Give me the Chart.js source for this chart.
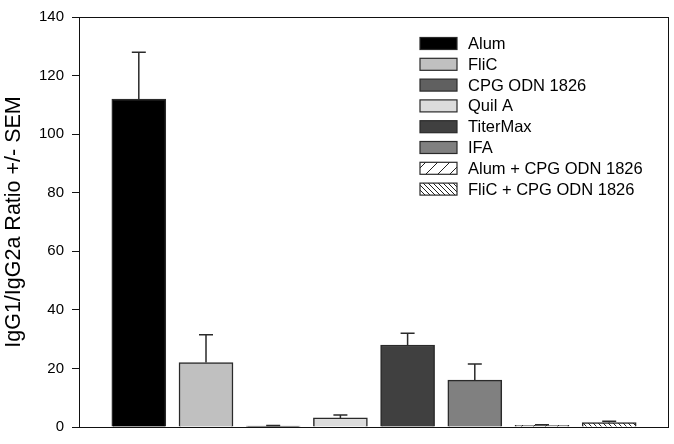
<!DOCTYPE html>
<html>
<head>
<meta charset="utf-8">
<script src="https://cdn.jsdelivr.net/npm/chart.js@4.4.0/dist/chart.umd.min.js"></script>
<style>
    body { margin: 0; background: #fff; }
    #wrap { width: 674px; height: 444px; }
</style>
</head>
<body>
<div id="wrap"><canvas id="ratioChart" width="674" height="444"></canvas></div>
<script>
const groups = ['Alum', 'FliC', 'CPG ODN 1826', 'Quil A', 'TiterMax', 'IFA', 'Alum + CPG ODN 1826', 'FliC + CPG ODN 1826'];
const ratios = [112, 22, 0.3, 3.1, 28, 16, 0.6, 1.5];
const sem = [16, 9.5, 0.2, 1, 4, 5.5, 0.2, 0.5];
const yTicks = [0, 20, 40, 60, 80, 100, 120, 140];

const edge = '#2a2a2a';

function hatch(size, slash, lineWidth) {
    const c = document.createElement('canvas');
    c.width = size;
    c.height = size;
    const g = c.getContext('2d');
    g.fillStyle = '#fff';
    g.fillRect(0, 0, size, size);
    g.strokeStyle = '#222';
    g.lineWidth = lineWidth;
    g.beginPath();
    if (slash) {
        g.moveTo(-1, size + 1); g.lineTo(size + 1, -1);
        g.moveTo(-1, 1); g.lineTo(1, -1);
        g.moveTo(size - 1, size + 1); g.lineTo(size + 1, size - 1);
    } else {
        g.moveTo(-1, -1); g.lineTo(size + 1, size + 1);
        g.moveTo(size - 1, -1); g.lineTo(size + 1, 1);
        g.moveTo(-1, size - 1); g.lineTo(1, size + 1);
    }
    g.stroke();
    return g.createPattern(c, 'repeat');
}

const fills = ['#000000', '#c0c0c0', '#606060', '#dcdcdc', '#404040', '#808080', hatch(12, true, 1), hatch(5, false, 1)];

const errorBars = {
    id: 'errorBars',
    afterDatasetsDraw(chart) {
        const ctx = chart.ctx;
        const y = chart.scales.y;
        const meta = chart.getDatasetMeta(0);
        ctx.save();
        ctx.strokeStyle = edge;
        ctx.lineWidth = 1.5;
        meta.data.forEach((bar, i) => {
            const top = y.getPixelForValue(ratios[i] + sem[i]);
            ctx.beginPath();
            ctx.moveTo(bar.x, bar.y);
            ctx.lineTo(bar.x, top);
            ctx.moveTo(bar.x - 7, top);
            ctx.lineTo(bar.x + 7, top);
            ctx.stroke();
        });
        ctx.restore();
    }
};

const frameAndLegend = {
    id: 'frameAndLegend',
    afterDraw(chart) {
        const ctx = chart.ctx;
        const a = chart.chartArea;
        ctx.save();
        ctx.strokeStyle = '#111';
        ctx.lineWidth = 1;
        ctx.strokeRect(a.left + 0.5, a.top + 0.5, a.right - a.left - 1, a.bottom - a.top);

        ctx.font = '16.5px "Liberation Sans", Arial, sans-serif';
        ctx.textBaseline = 'middle';
        groups.forEach((name, i) => {
            const cy = 43.5 + i * 20.8;
            ctx.fillStyle = fills[i];
            ctx.fillRect(420, cy - 6, 37, 12);
            ctx.strokeStyle = edge;
            ctx.lineWidth = 1.2;
            ctx.strokeRect(420, cy - 6, 37, 12);
            ctx.fillStyle = '#000';
            ctx.fillText(name, 468, cy + 1);
        });
        ctx.restore();
    }
};

new Chart(document.getElementById('ratioChart'), {
    type: 'bar',
    data: {
        datasets: [{
            data: ratios.map((v, i) => ({ x: i + 1, y: v })),
            backgroundColor: fills,
            borderColor: edge,
            borderWidth: 1.5,
            barThickness: 54
        }]
    },
    options: {
        responsive: false,
        animation: false,
        layout: { padding: { top: 10, right: 5, bottom: 10, left: 0 } },
        plugins: { legend: { display: false }, tooltip: { enabled: false } },
        scales: {
            x: {
                type: 'linear',
                display: false,
                offset: false,
                min: 0.11,
                max: 8.89
            },
            y: {
                min: 0,
                max: 140,
                afterFit(scale) { scale.width = 79; },
                afterBuildTicks(scale) { scale.ticks = yTicks.map(v => ({ value: v })); },
                border: { display: true, color: '#111', width: 1 },
                grid: { drawOnChartArea: false, drawTicks: true, tickLength: 7, color: '#111' },
                ticks: {
                    color: '#000',
                    padding: 8,
                    font: { family: '"Liberation Sans", Arial, sans-serif', size: 15 }
                },
                title: {
                    display: true,
                    text: 'IgG1/IgG2a Ratio +/- SEM',
                    color: '#000',
                    padding: { top: 1, bottom: 0 },
                    font: { family: '"Liberation Sans", Arial, sans-serif', size: 21.5 }
                }
            }
        }
    },
    plugins: [errorBars, frameAndLegend]
});
</script>
</body>
</html>
